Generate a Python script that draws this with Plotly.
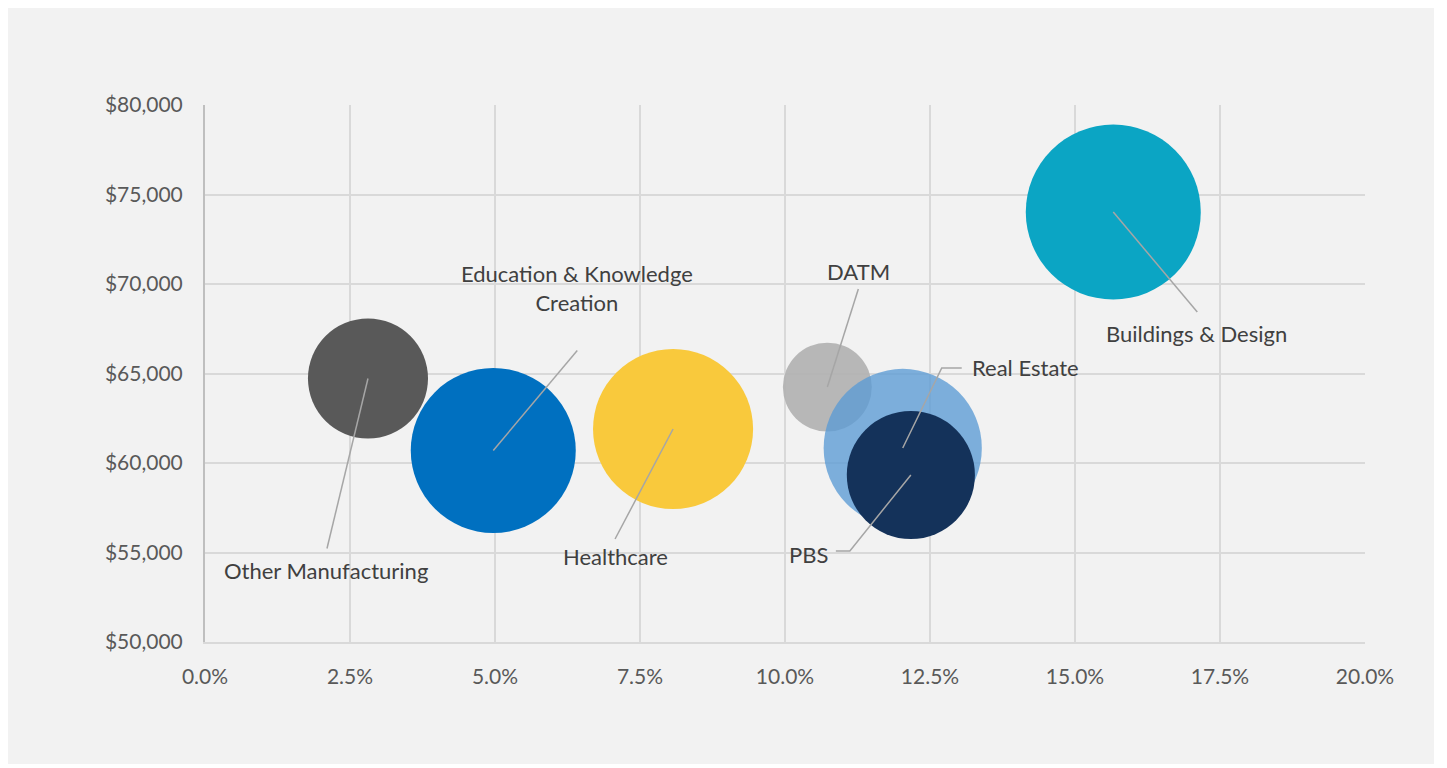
import plotly.graph_objects as go

# Data
sectors = ["Other Manufacturing", "Education & Knowledge<br>Creation", "Healthcare",
           "DATM", "Real Estate", "PBS", "Buildings & Design"]
growth = [0.0281, 0.0497, 0.0807, 0.1073, 0.1203, 0.1217, 0.1566]
wage = [64720, 60700, 61900, 64240, 60840, 59330, 74020]
bubble_size = [14.4, 27.2, 25.6, 7.9, 25.0, 16.4, 30.6]

colors = ["#595959", "#0070c0", "#f9c93c", "#b3b3b3", "#5b9bd5", "#14325a", "#0ba5c4"]
opacity = [1, 1, 1, 0.95, 0.78, 1, 1]

# leader line (pixel path from bubble centre) and label offset / anchor
leaders = [
    ("M0,0 L-41,-170", -42, -192, "center"),
    ("M0,0 L84,100", 84, 162, "center"),
    ("M0,0 L-58,-110", -58, -128, "center"),
    ("M0,0 L31,98", 31, 116, "center"),
    ("M0,0 L39,80 L59,80", 67, 80, "left"),
    ("M0,0 L-61,-76 L-75,-76", -81, -80, "right"),
    ("M0,0 L84,-100", 83, -121, "center"),
]

LINE = "#a6a6a6"
TEXT = "#404040"
FONT = "Lato, 'Open Sans', sans-serif"

fig = go.Figure()
sizeref = 2 * max(bubble_size) / 175 ** 2
for i, name in enumerate(sectors):
    fig.add_trace(go.Scatter(
        x=[growth[i]], y=[wage[i]], mode="markers", name=name, cliponaxis=False,
        marker=dict(size=[bubble_size[i]], sizemode="area", sizeref=sizeref,
                    color=colors[i], opacity=opacity[i], line=dict(width=0)),
        hoverinfo="skip"))

for i, (path, dx, dy, anchor) in enumerate(leaders):
    fig.add_shape(type="path", path=path, xref="x", yref="y",
                  xsizemode="pixel", ysizemode="pixel",
                  xanchor=growth[i], yanchor=wage[i],
                  line=dict(color=LINE, width=1.5), layer="above")
    fig.add_annotation(x=growth[i], y=wage[i], text=sectors[i], showarrow=False,
                       xshift=dx, yshift=dy, xanchor=anchor, yanchor="middle",
                       align="center", font=dict(size=22, color=TEXT, family=FONT))

fig.update_layout(
    width=1426, height=756,
    margin=dict(l=197, r=69, t=97, b=122),
    paper_bgcolor="#f2f2f2", plot_bgcolor="#f2f2f2",
    showlegend=False,
    font=dict(family=FONT, size=21, color="#595959"),
)
fig.update_xaxes(range=[0, 0.2], dtick=0.025, tickformat=".1%",
                 showgrid=True, gridcolor="#d9d9d9", gridwidth=1.5,
                 zeroline=False, showline=True, linecolor="#d9d9d9", linewidth=1.5,
                 ticks="", ticklabelstandoff=15,
                 tickfont=dict(size=21, color="#595959"))
fig.update_yaxes(range=[50000, 80000], dtick=5000, tickprefix="$", tickformat=",.0f",
                 showgrid=True, gridcolor="#d9d9d9", gridwidth=1.5,
                 zeroline=False, showline=True, linecolor="#bfbfbf", linewidth=2,
                 ticks="", ticklabelstandoff=16, tickfont=dict(size=21, color="#595959"))

fig.write_html("out.html")
